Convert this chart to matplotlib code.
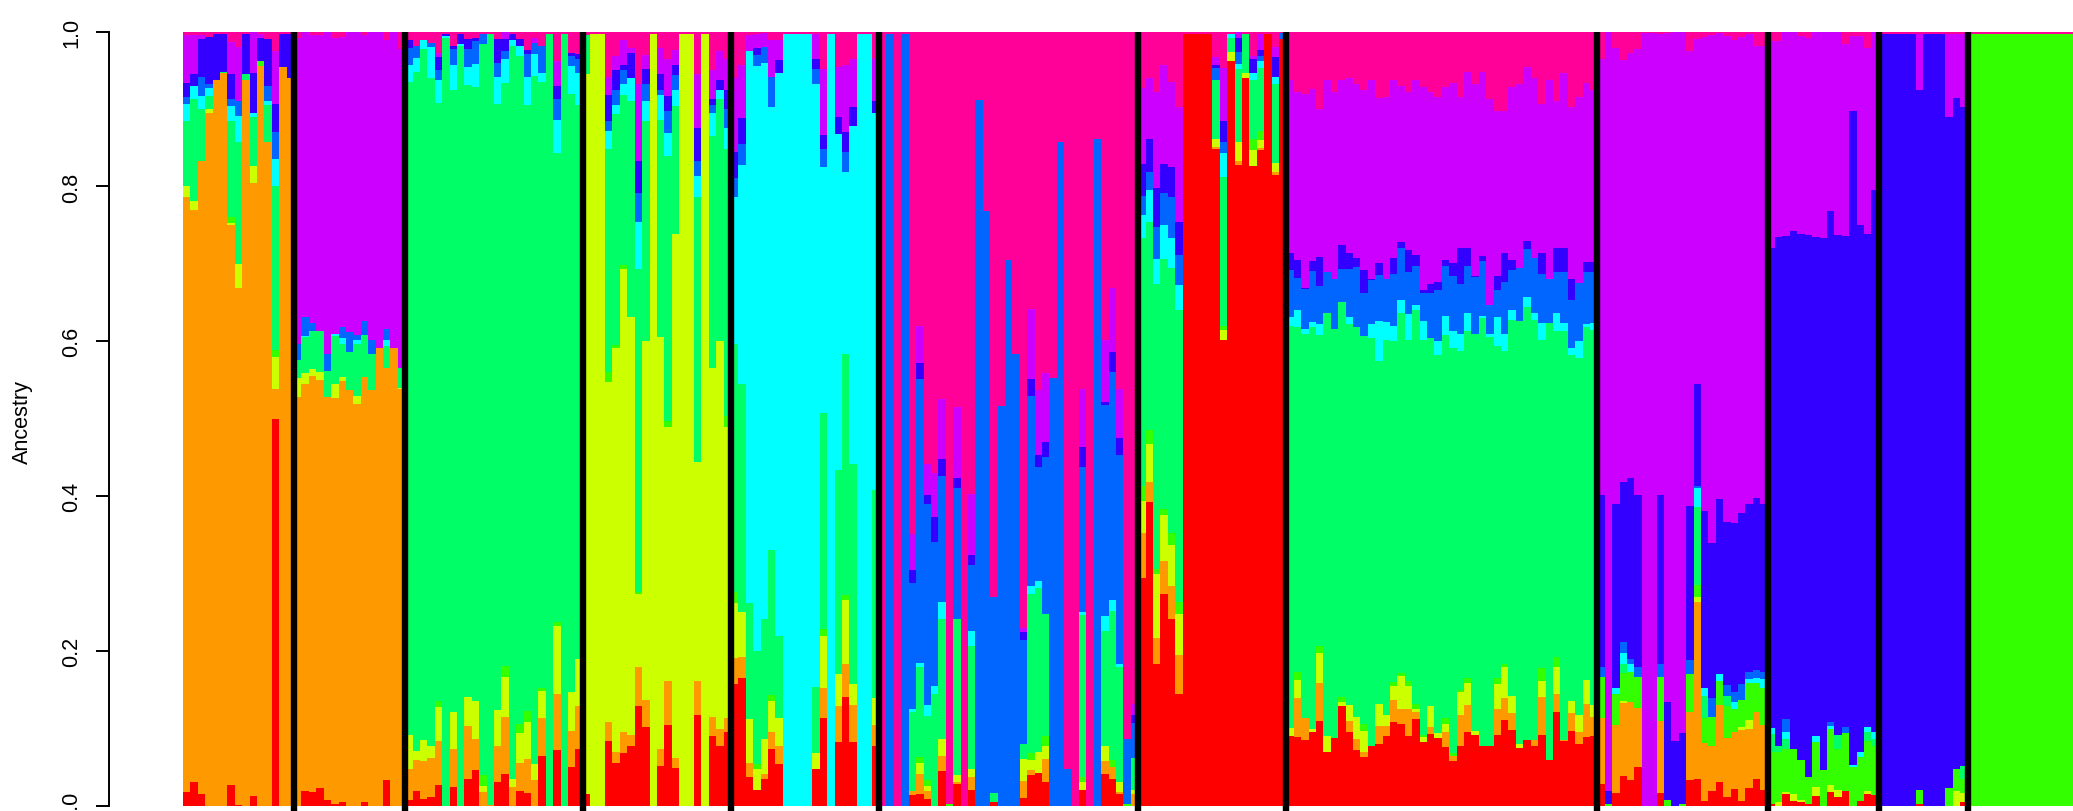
import numpy as np
import matplotlib
matplotlib.use("Agg")
import matplotlib.pyplot as plt

plt.rcParams['font.family'] = ['Liberation Sans', 'DejaVu Sans']

colours = ['#FF0000', '#FF9900', '#CCFF00', '#33FF00', '#00FF66',
           '#00FFFF', '#0066FF', '#3300FF', '#CC00FF', '#FF0099']
y_ticks = [0.0, 0.2, 0.4, 0.6, 0.8, 1.0]
y_label = 'Ancestry'

# each row: cumulative tops of the first nine ancestry components (the tenth fills up to 1)
pop01 = [
 [.018,.786,.80,.80,.884,.907,.915,.934,.995],[.031,.77,.781,.781,.913,.93,.93,.945,.995],
 [.016,.833,.833,.833,.90,.917,.942,.99,.995],[0,.895,.90,.90,.917,.927,.932,.993,.993],
 [0,.937,.937,.937,.937,.937,.938,.997,.997],[0,.946,.946,.946,.948,.948,.948,.997,.997],
 [.027,.75,.753,.76,.884,.904,.913,.945,.987],[.001,.669,.70,.70,.857,.891,.91,.91,.98],
 [0,.937,.937,.937,.945,.945,.945,.997,.997],[.013,.805,.827,.827,.89,.895,.895,.946,1],
 [0,.955,.955,.962,.962,.962,.962,.992,.997],[0,.858,.858,.858,.905,.91,.93,.99,.99],
 [.50,.538,.58,.589,.80,.835,.87,.906,.975],[0,.954,.954,.954,.954,.954,.954,.997,.997],
 [0,.94,.94,.94,.94,.94,.94,.997,.997]]
pop02 = [
 [0,.528,.553,.553,.576,.576,.596,.596,.992],[.02,.545,.559,.559,.606,.607,.632,.632,1],
 [.018,.555,.564,.564,.614,.614,.624,.624,.995],[.023,.55,.56,.56,.614,.614,.614,.614,.995],
 [.008,.528,.528,.528,.562,.562,.584,.584,1],[.003,.527,.545,.545,.607,.61,.61,.61,.992],
 [.005,.549,.554,.554,.596,.604,.618,.618,.993],[0,.537,.537,.537,.586,.586,.612,.612,1],
 [0,.519,.53,.53,.597,.602,.608,.608,1],[.005,.554,.554,.554,.608,.608,.626,.626,.995],
 [0,.537,.537,.537,.584,.584,.602,.602,1],[0,.592,.592,.592,.592,.592,.592,.592,1],
 [.034,.565,.565,.565,.594,.602,.616,.616,.989],[0,.592,.592,.592,.592,.592,.592,.592,1],
 [0,.538,.54,.54,.566,.566,.566,.566,.977]]
pop03 = [
 [.008,.048,.092,.092,.935,.957,.979,.989,.989],[.019,.059,.071,.071,.948,.966,.981,.981,.981],
 [.009,.058,.085,.085,.978,.989,.989,.989,.989],[.011,.062,.078,.078,.94,.98,.985,.985,.985],
 [.027,.084,.128,.135,.908,.937,.95,.967,.973],[0,0,0,0,.992,.994,.994,.997,.997],
 [.024,.074,.121,.121,.924,.957,.977,.981,.981],[0,0,0,0,.982,.984,.984,.997,.997],
 [.035,.103,.141,.141,.931,.954,.978,.99,.99],[.046,.087,.136,.136,.928,.958,.988,.992,.992],
 [0,.018,.026,.04,.984,.984,.997,.997,.997],[0,.001,.001,.001,.997,.997,.997,.997,.997],
 [.031,.077,.124,.124,.906,.941,.96,.99,.99],[.041,.115,.167,.181,.934,.965,.975,.99,1],
 [0,.025,.035,.035,.981,.989,.989,.997,.997],[.019,.056,.094,.106,.969,.981,.981,.99,.99],
 [.017,.061,.109,.123,.905,.942,.971,.976,.976],[0,.033,.054,.054,.943,.971,.985,.985,.992],
 [.065,.113,.149,.152,.935,.947,.982,.982,.982],[0,0,0,0,.997,.997,.997,.997,.997],
 [.072,.145,.232,.238,.843,.886,.913,.93,.962],[0,0,0,0,.997,.997,.997,.997,.997],
 [.05,.097,.147,.147,.92,.955,.969,.973,.973],[.073,.129,.19,.19,.905,.947,.964,.971,.971]]
pop04 = [
 [.015,.015,.945,.945,.996,.996,.996,.996,.996],[0,0,.997,.997,.997,.997,.997,.997,.997],
 [0,0,.997,.997,.997,.997,.997,.997,.997],[.084,.108,.547,.561,.848,.872,.885,.918,.942],
 [.055,.07,.592,.595,.894,.905,.924,.95,.968],[.068,.095,.694,.699,.918,.932,.95,.957,.989],
 [.078,.092,.631,.631,.91,.94,.94,.972,.979],[.129,.179,.274,.276,.694,.754,.791,.833,.932],
 [.102,.137,.60,.60,.884,.91,.932,.952,.97],[0,0,.997,.997,.997,.997,.997,.997,.997],
 [.052,.074,.606,.606,.886,.918,.925,.945,.979],[.104,.161,.489,.497,.839,.869,.897,.917,.964],
 [.049,.062,.738,.738,.904,.925,.944,.957,.976],[0,0,.997,.997,.997,.997,.997,.997,.997],
 [0,0,.997,.997,.997,.997,.997,.997,.997],[.118,.162,.444,.444,.786,.813,.833,.876,.945],
 [0,0,.997,.997,.997,.997,.997,.997,.997],[.09,.115,.565,.565,.865,.895,.905,.913,.95],
 [.078,.10,.60,.60,.913,.925,.925,.937,.975],[.096,.114,.489,.503,.848,.875,.90,.924,.964]]
pop05 = [
 [.157,.191,.262,.276,.597,.786,.811,.845,.94],[.165,.192,.251,.251,.545,.828,.855,.888,.957],
 [.038,.055,.112,.112,.262,.975,.975,.975,.995],[.021,.021,.048,.054,.20,.955,.97,.979,.997],
 [.035,.041,.087,.087,.242,.96,.98,.98,.998],[.074,.095,.135,.143,.33,.903,.942,.942,.989],
 [.054,.078,.114,.114,.22,.947,.947,.963,.989],[0,0,0,0,0,.997,.997,.997,.997],
 [0,0,0,0,0,.997,.997,.997,.997],[0,0,0,0,0,.997,.997,.997,.997],
 [0,0,0,0,0,.997,.997,.997,.997],[.048,.048,.068,.068,.154,.932,.952,.965,.997],
 [.113,.152,.22,.229,.507,.825,.849,.867,.952],[0,0,0,0,0,.997,.997,.997,.997],
 [.082,.129,.171,.171,.434,.868,.868,.89,.954],[.141,.183,.266,.272,.584,.819,.845,.87,.957],
 [.082,.131,.157,.157,.442,.878,.878,.903,.965],[0,0,0,0,0,.997,.997,.997,.997],
 [0,0,0,0,0,.997,.997,.997,.997],[.077,.105,.139,.139,.408,.895,.895,.91,.964]]
pop06 = [
 [0,0,0,0,0,0,0,0,0],[0,0,0,0,0,0,.997,.997,.997],
 [0,0,0,0,0,0,0,0,0],[0,0,0,0,0,0,.997,.997,.997],
 [.014,.019,.019,.019,.121,.125,.288,.305,.351],[.015,.041,.056,.063,.179,.185,.552,.572,.62],
 [.009,.019,.026,.033,.116,.13,.39,.402,.442],[0,0,0,0,.145,.155,.341,.373,.43],
 [.045,.065,.087,.087,.242,.264,.426,.448,.525],[0,0,0,.003,.003,.003,.003,.003,.003],
 [.028,.031,.04,.04,.242,.242,.41,.424,.515],[0,0,0,0,0,0,0,0,0],
 [.021,.038,.048,.048,.207,.226,.311,.324,.403],[0,0,0,0,0,0,.912,.912,.912],
 [0,0,0,0,0,0,.768,.768,.768],[.005,.005,.005,.005,.017,.017,.27,.27,.27],
 [0,0,0,0,0,0,.517,.517,.517],[0,0,0,0,0,0,.705,.705,.705],
 [0,0,0,0,0,0,.584,.584,.584],[.01,.032,.061,.061,.08,.08,.215,.225,.23],
 [.04,.046,.06,.068,.274,.284,.53,.552,.642],[.043,.043,.07,.07,.282,.29,.438,.453,.537],
 [.031,.061,.077,.09,.248,.248,.451,.47,.559],[0,0,0,0,0,0,.553,.553,.553],
 [0,0,0,0,0,0,.857,.857,.857],[0,0,0,0,0,0,.048,.048,.048],
 [0,0,0,0,0,0,0,0,0],[.021,.021,.031,.037,.247,.251,.438,.463,.538],
 [0,0,0,0,0,0,0,0,0],[0,0,0,0,0,0,.861,.861,.861],
 [.041,.058,.078,.078,.226,.245,.518,.522,.602],[.035,.05,.05,.06,.252,.266,.56,.586,.669],
 [.016,.018,.031,.031,.179,.183,.453,.475,.539],[0,0,0,.003,.003,.003,.086,.086,.086],
 [0,.015,.021,.021,.062,.062,.107,.117,.132]]
pop07 = [
 [.294,.353,.394,.413,.733,.763,.788,.829,.927],[.393,.418,.467,.485,.754,.796,.819,.861,.94],
 [.183,.217,.30,.306,.674,.706,.748,.798,.922],[.274,.316,.376,.383,.706,.75,.791,.829,.957],
 [.242,.284,.337,.353,.695,.733,.786,.825,.935],[.144,.195,.248,.264,.64,.673,.711,.754,.902],
 [.997,.997,.997,.997,.997,.997,.997,.997,.997],[.997,.997,.997,.997,.997,.997,.997,.997,.997],
 [.997,.997,.997,.997,.997,.997,.997,.997,.997],[.997,.997,.997,.997,.997,.997,.997,.997,.997],
 [.849,.851,.861,.861,.937,.937,.953,.957,.967],[.602,.602,.615,.62,.812,.843,.858,.885,.953],
 [.962,.962,.974,.974,.992,.997,.997,.997,.997],[.828,.833,.857,.857,.952,.958,.974,.992,1],
 [.94,.94,.946,.946,.997,.997,.997,.997,.997],[.826,.826,.847,.861,.938,.946,.946,.964,.969],
 [.847,.85,.86,.872,.953,.962,.969,.976,.997],[.997,.997,.997,.997,.997,.997,.997,.997,.997],
 [.815,.819,.83,.83,.932,.942,.942,.967,.98],[.99,.99,.99,.99,.99,.99,.998,.998,.998]]
pop08 = [
 [.09,.09,.101,.101,.62,.632,.692,.714,.938],[.089,.139,.163,.173,.618,.64,.682,.705,.922],
 [.085,.114,.114,.114,.609,.616,.667,.669,.92],[.095,.095,.10,.10,.619,.625,.691,.704,.926],
 [.11,.159,.197,.207,.608,.622,.671,.709,.90],[.07,.07,.09,.09,.637,.637,.689,.689,.938],
 [.088,.088,.088,.088,.616,.616,.68,.68,.922],[.129,.129,.134,.141,.651,.651,.693,.724,.938],
 [.096,.11,.131,.131,.622,.632,.693,.714,.94],[.072,.087,.115,.115,.618,.618,.696,.707,.932],
 [.063,.07,.097,.106,.607,.607,.663,.692,.925],[.078,.078,.078,.078,.604,.622,.679,.681,.938],
 [.08,.103,.132,.132,.575,.626,.686,.701,.914],[.09,.103,.117,.117,.602,.625,.681,.681,.916],
 [.108,.137,.155,.16,.60,.62,.687,.707,.938],[.106,.125,.168,.172,.637,.653,.72,.728,.93],
 [.09,.125,.155,.161,.602,.635,.689,.718,.922],[.112,.121,.125,.132,.641,.647,.697,.711,.938],
 [.083,.083,.089,.092,.602,.626,.663,.666,.928],[.093,.102,.129,.129,.604,.604,.662,.674,.922],
 [.088,.088,.094,.094,.582,.60,.666,.677,.916],[.076,.095,.106,.113,.608,.633,.697,.705,.928],
 [.058,.064,.064,.068,.591,.614,.685,.701,.934],[.077,.117,.147,.15,.588,.61,.674,.72,.916],
 [.095,.13,.159,.165,.614,.637,.697,.72,.948],[.092,.092,.097,.097,.61,.61,.683,.684,.932],
 [.078,.078,.078,.078,.63,.633,.704,.71,.948],[.078,.078,.078,.078,.606,.61,.647,.647,.913],
 [.092,.125,.158,.165,.594,.632,.666,.684,.898],[.111,.14,.179,.184,.587,.61,.677,.714,.898],
 [.098,.12,.142,.142,.627,.64,.692,.705,.928],[.075,.075,.08,.08,.626,.626,.695,.695,.932],
 [.085,.085,.085,.085,.644,.657,.719,.73,.954],[.077,.085,.085,.085,.627,.637,.707,.707,.94],
 [.092,.141,.161,.178,.602,.624,.687,.714,.906],[.06,.06,.06,.06,.624,.624,.681,.681,.937],
 [.122,.145,.179,.193,.614,.636,.689,.721,.91],[.084,.085,.085,.085,.614,.624,.689,.721,.947],
 [.097,.12,.135,.135,.582,.592,.654,.68,.903],[.08,.096,.117,.117,.579,.60,.675,.675,.915],
 [.089,.132,.163,.163,.619,.622,.689,.703,.934],[.091,.115,.13,.13,.615,.624,.689,.703,.924]]
pop09 = [
 [.029,.114,.114,.167,.167,.167,.179,.401,.965],[0,0,0,.002,.002,.002,.002,.02,1],
 [.017,.104,.104,.144,.144,.152,.152,.39,.979],[.039,.133,.135,.172,.183,.197,.212,.418,.963],
 [.033,.134,.134,.173,.173,.183,.19,.423,.973],[.05,.127,.127,.167,.167,.167,.18,.401,.978],
 [0,0,0,0,0,0,0,0,.998],[0,0,0,0,0,0,0,0,.998],
 [.017,.11,.11,.167,.167,.167,.183,.401,.997],[0,0,0,.008,.008,.008,.008,.134,.998],
 [0,0,0,0,0,0,0,.084,.999],[0,0,0,.003,.003,.003,.003,.094,1],
 [.034,.121,.121,.171,.171,.171,.189,.388,.975],[.035,.264,.27,.286,.386,.41,.413,.545,.99],
 [.007,.081,.081,.114,.142,.153,.153,.381,.993],[.019,.078,.078,.115,.115,.115,.139,.34,.995],
 [.031,.13,.13,.161,.161,.171,.171,.396,.998],[.011,.088,.088,.129,.142,.142,.156,.367,.994],
 [.022,.096,.096,.125,.125,.134,.147,.365,.989],[.006,.098,.102,.137,.137,.137,.157,.378,.993],
 [.023,.10,.111,.159,.159,.164,.173,.39,.997],[.035,.121,.121,.159,.159,.165,.176,.398,.982],
 [.021,.105,.105,.153,.153,.164,.173,.39,.982]]
pop10 = [
 [.003,.003,.003,.07,.093,.101,.101,.721,.988],[0,0,.005,.07,.078,.078,.078,.735,.988],
 [.015,.015,.018,.073,.087,.095,.112,.736,1],[.006,.006,.016,.074,.074,.074,.074,.742,1],
 [.005,.005,.008,.06,.06,.06,.06,.739,.994],[.003,.003,.003,.037,.037,.037,.037,.737,.992],
 [.013,.013,.025,.082,.082,.09,.09,.735,1],[0,0,0,.046,.046,.046,.046,.734,1],
 [.018,.018,.027,.10,.10,.103,.108,.768,1],[.011,.011,.021,.074,.092,.092,.092,.737,1],
 [.02,.02,.02,.094,.094,.094,.102,.736,.984],[0,0,0,.05,.05,.053,.053,.897,.994],
 [.006,.006,.006,.063,.063,.07,.07,.75,.994],[.016,.016,.02,.084,.095,.102,.102,.738,.979],
 [.014,.014,.014,.078,.087,.096,.096,.796,1]]
pop11 = [
 [0,0,0,0,0,0,0,.997,.997],[0,0,0,0,0,0,0,.997,.997],[0,0,0,0,0,0,0,.997,.997],
 [0,0,0,0,0,0,0,.997,.997],[0,0,0,0,0,0,0,.997,.997],[.003,.003,.003,.021,.021,.021,.021,.925,.997],
 [0,0,0,0,0,0,0,.997,.997],[0,0,0,0,0,0,0,.997,.997],[0,0,0,0,0,0,0,.997,.997],
 [0,0,0,.023,.023,.023,.023,.89,.997],[0,0,.02,.048,.048,.048,.048,.914,.997],
 [.005,.005,.017,.035,.052,.052,.052,.902,.997]]
pop12 = [[0,0,0,.997,.997,.997,.997,.997,.997]] * 16

populations = [pop01, pop02, pop03, pop04, pop05, pop06,
               pop07, pop08, pop09, pop10, pop11, pop12]

tops = np.array([row for pop in populations for row in pop], dtype=float)
edges = np.column_stack([np.zeros(len(tops)), tops, np.ones(len(tops))])
positions = np.arange(len(tops)) + 0.5
sizes = [len(p) for p in populations]
boundaries = np.cumsum(sizes)[:-1]

W, H = 2073, 812
fig = plt.figure(figsize=(W / 100, H / 100), dpi=100)
px_per_bar = 7.405
left, top_px, zero_px = 183.0, 32.6, 807.0
ax = fig.add_axes([left / W, 0, 1 - left / W, 1 - top_px / H])
ax.set_xlim(0, (W - left) / px_per_bar)
ax.set_ylim(-(H - zero_px) / (zero_px - top_px), 1)

for k, colour in enumerate(colours):
    ax.bar(positions, edges[:, k + 1] - edges[:, k], bottom=edges[:, k], width=1.0,
           color=colour, linewidth=0, antialiased=False)
for b in boundaries:
    ax.axvline(b, color='black', lw=4.6, solid_capstyle='butt')

for side in ('top', 'right', 'bottom'):
    ax.spines[side].set_visible(False)
ax.spines['left'].set_position(('outward', (left - 109) * 0.72))
ax.spines['left'].set_bounds(0, 1)
ax.spines['left'].set_linewidth(1.4)
ax.set_xticks([])
ax.set_yticks(y_ticks)
ax.set_yticklabels([f'{t:.1f}' for t in y_ticks], rotation=90, va='center', fontsize=15.6)
ax.tick_params(axis='y', length=9.4, width=1.4, pad=10)
fig.text(22 / W, 1 - 422 / H, y_label, rotation=90, ha='center', va='center', fontsize=15.6)

fig.savefig('out.png', dpi=100)
